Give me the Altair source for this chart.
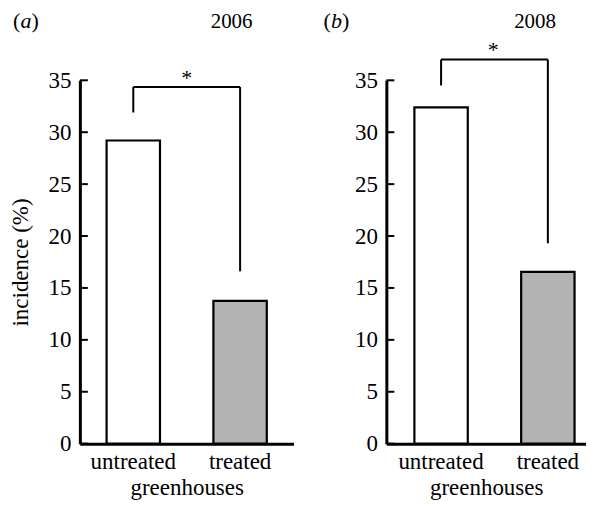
import altair as alt
import pandas as pd

FONT = "Liberation Serif"

groups = ["untreated", "treated"]
vals_2006 = [29.2, 13.75]
vals_2008 = [32.4, 16.55]
years = ["2006", "2008"]
panel_letters = ["a", "b"]
tick_values = [0, 5, 10, 15, 20, 25, 30, 35]
fills = ["white", "#b3b3b3"]

# bracket: horizontal level, left leg bottom, right leg bottom, asterisk level
bracket_2006 = [34.35, 31.9, 16.6, 35.3]
bracket_2008 = [37.0, 34.5, 19.3, 38.0]

H = 364
TY = -52


def panel(vals, bracket, year, letter, show_title, width, scale_kw, year_x, letter_x):
    df = pd.DataFrame({"group": groups, "value": vals, "fill": fills})
    xscale = alt.Scale(domain=groups, **scale_kw)
    yscale = alt.Scale(domain=[0, 35], nice=False)
    ytitle = "incidence (%)" if show_title else None
    x = alt.X("group:N", scale=xscale, title="greenhouses", axis=alt.Axis(labelAngle=0))
    y = alt.Y("value:Q", scale=yscale, title=ytitle, axis=alt.Axis(values=tick_values))
    bars = alt.Chart(df).mark_bar(stroke="black", strokeWidth=2.2).encode(
        x=x, y=y, fill=alt.Fill("fill:N", scale=None))

    ticks_df = pd.DataFrame({"t": tick_values})
    ticks = alt.Chart(ticks_df).mark_rule(color="black", strokeWidth=2).encode(
        y=alt.Y("t:Q", scale=yscale, title=ytitle), x=alt.value(0), x2=alt.value(8))

    hdf = pd.DataFrame({"a": [groups[0]], "b": [groups[1]], "y": [bracket[0]]})
    hline = alt.Chart(hdf).mark_rule(color="black", strokeWidth=2).encode(
        x=alt.X("a:N", scale=xscale, title="greenhouses"), x2="b:N",
        y=alt.Y("y:Q", scale=yscale, title=ytitle))
    vdf = pd.DataFrame({"group": groups, "top": [bracket[0], bracket[0]],
                        "bot": [bracket[1], bracket[2]]})
    vlines = alt.Chart(vdf).mark_rule(color="black", strokeWidth=2).encode(
        x=alt.X("group:N", scale=xscale, title="greenhouses"),
        y=alt.Y("top:Q", scale=yscale, title=ytitle), y2="bot:Q")
    sdf = pd.DataFrame({"y": [bracket[3]], "t": ["*"]})
    star = alt.Chart(sdf).mark_text(fontSize=22, color="black",
                                    baseline="alphabetic", dy=8).encode(
        y=alt.Y("y:Q", scale=yscale, title=ytitle),
        x=alt.value(107), text="t:N")

    ydf = pd.DataFrame({"t": [year]})
    ytxt = alt.Chart(ydf).mark_text(fontSize=21, color="black",
                                    baseline="alphabetic").encode(
        x=alt.value(year_x), y=alt.value(TY), text="t:N")
    ldf = pd.DataFrame({"t": ["(", letter, ")"]})
    l1 = alt.Chart(ldf.iloc[[0]]).mark_text(fontSize=22, color="black", align="left",
                                            baseline="alphabetic").encode(
        x=alt.value(letter_x), y=alt.value(TY), text="t:N")
    l2 = alt.Chart(ldf.iloc[[1]]).mark_text(fontSize=22, color="black", align="left",
                                            fontStyle="italic",
                                            baseline="alphabetic").encode(
        x=alt.value(letter_x + 7.5), y=alt.value(TY), text="t:N")
    l3 = alt.Chart(ldf.iloc[[2]]).mark_text(fontSize=22, color="black", align="left",
                                            baseline="alphabetic").encode(
        x=alt.value(letter_x + 18.5), y=alt.value(TY), text="t:N")

    return alt.layer(bars, ticks, hline, vlines, star, ytxt, l1, l2, l3).properties(
        width=width, height=H)


left = panel(vals_2006, bracket_2006, years[0], panel_letters[0], True, 214,
             dict(paddingInner=0.5, paddingOuter=0.25), 152, -67)
right = panel(vals_2008, bracket_2008, years[1], panel_letters[1], False, 200,
              dict(paddingInner=0.5, paddingOuter=0.185, align=0.71), 149, -63)

chart = alt.hconcat(left, right, spacing=93, bounds="flush").configure(
    background="white", font=FONT,
    padding={"left": 2, "top": 2, "right": 0, "bottom": 0}
).configure_view(
    strokeWidth=0, stroke="transparent"
).configure_axis(
    labelFont=FONT, titleFont=FONT, labelFontSize=23, titleFontSize=23,
    labelColor="black", titleColor="black", titleFontWeight="normal",
    domainWidth=3, domainColor="black", ticks=False, grid=False
).configure_axisX(
    labelPadding=7, titlePadding=3
).configure_axisY(
    labelPadding=9, titlePadding=15
).configure_text(font=FONT)

chart.save("out.html", embed_options={"renderer": "svg", "actions": False})
